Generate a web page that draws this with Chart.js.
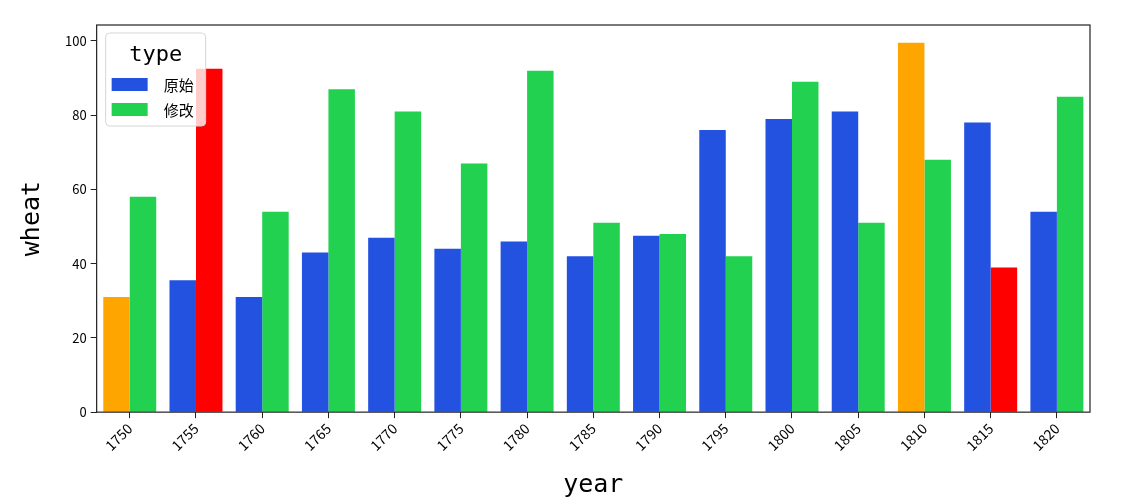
<!DOCTYPE html>
<html>
<head>
<meta charset="utf-8">
<script src="https://cdn.jsdelivr.net/npm/chart.js@4"></script>
<style>
  html, body { margin: 0; padding: 0; background: #fff; }
  #wrap { width: 1135px; height: 502px; }
</style>
</head>
<body>
<div id="wrap"><canvas id="wheatChart" width="1135" height="502"></canvas></div>
<script>
const years = ['1750', '1755', '1760', '1765', '1770', '1775', '1780', '1785',
               '1790', '1795', '1800', '1805', '1810', '1815', '1820'];
const original = [31, 35.5, 31, 43, 47, 44, 46, 42, 47.5, 76, 79, 81, 99.5, 78, 54];
const modified = [58, 92.5, 54, 87, 81, 67, 92, 51, 48, 42, 89, 51, 68, 39, 85];
const yTicks = [0, 20, 40, 60, 80, 100];

const BLUE = '#2351e0';
const GREEN = '#22d14f';
// highlighted bars: min of the originals / max of the modified ones
const origColors = years.map((y, i) => y === '1750' || y === '1810' ? '#ffa500' : BLUE);
const modColors = years.map((y, i) => y === '1755' || y === '1815' ? '#ff0000' : GREEN);

const cjk = "'Noto Sans CJK SC', 'DejaVu Sans', sans-serif";
const mono = "'DejaVu Sans Mono', monospace";

const framePlugin = {
    id: 'frame',
    afterDatasetsDraw(chart) {
        const a = chart.chartArea, c = chart.ctx;
        c.save();
        c.strokeStyle = '#222';
        c.lineWidth = 1.2;
        c.strokeRect(a.left, a.top, a.right - a.left, a.bottom - a.top);
        c.restore();
    }
};

const legendPlugin = {
    id: 'boxLegend',
    afterDraw(chart) {
        const a = chart.chartArea, c = chart.ctx;
        const x = a.left + 9, y = a.top + 8, w = 100, h = 93;
        c.save();
        c.fillStyle = 'rgba(255,255,255,0.8)';
        c.strokeStyle = '#d6d6d6';
        c.lineWidth = 1;
        c.beginPath();
        c.roundRect(x, y, w, h, 4);
        c.fill();
        c.stroke();
        c.fillStyle = '#000';
        c.font = '22px ' + mono;
        c.textAlign = 'center';
        c.textBaseline = 'middle';
        c.fillText('type', x + w / 2, y + 22);
        const items = [['原始', BLUE], ['修改', GREEN]];
        c.font = '15px ' + cjk;
        c.textAlign = 'left';
        items.forEach(([label, col], i) => {
            const ry = y + 45 + i * 25;
            c.fillStyle = col;
            c.fillRect(x + 6, ry, 36, 13);
            c.fillStyle = '#000';
            c.fillText(label, x + 58, ry + 7);
        });
        c.restore();
    }
};

new Chart(document.getElementById('wheatChart').getContext('2d'), {
    type: 'bar',
    data: {
        labels: years,
        datasets: [
            { label: '原始', data: original, backgroundColor: origColors,
              categoryPercentage: 0.8, barPercentage: 1.0 },
            { label: '修改', data: modified, backgroundColor: modColors,
              categoryPercentage: 0.8, barPercentage: 1.0 }
        ]
    },
    options: {
        responsive: false,
        animation: false,
        layout: { padding: { left: 17, right: 45, top: 25, bottom: 2 } },
        plugins: { legend: { display: false }, tooltip: { enabled: false } },
        scales: {
            x: {
                offset: true,
                grid: { display: true, drawOnChartArea: false, tickLength: 6, color: '#222', offset: false },
                border: { display: false },
                ticks: { color: '#000', font: { family: cjk, size: 14 }, minRotation: 45, maxRotation: 45, padding: 2 },
                title: { display: true, text: 'year', color: '#000', font: { family: mono, size: 25 }, padding: { top: 14, bottom: 0 } }
            },
            y: {
                min: 0,
                max: 104.3,
                afterBuildTicks(axis) { axis.ticks = yTicks.map(v => ({ value: v })); },
                grid: { display: true, drawOnChartArea: false, tickLength: 6, color: '#222' },
                border: { display: false },
                ticks: { color: '#000', font: { family: cjk, size: 13 }, padding: 4 },
                title: { display: true, text: 'wheat', color: '#000', font: { family: mono, size: 25 }, padding: { top: 0, bottom: 14 } }
            }
        }
    },
    plugins: [framePlugin, legendPlugin]
});
</script>
</body>
</html>
